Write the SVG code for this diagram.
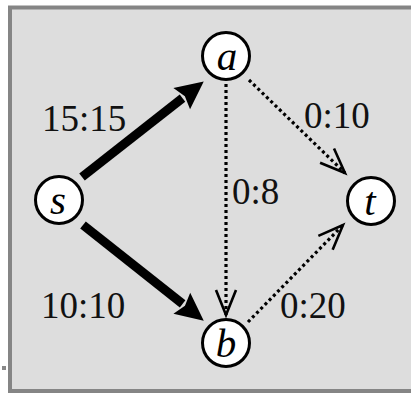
<svg xmlns="http://www.w3.org/2000/svg" width="411" height="393" viewBox="0 0 411 393">
<style>
.lbl{font-family:"Liberation Serif","Times New Roman",serif;font-size:37px;fill:#111}
.nlbl{font-family:"Liberation Serif","Times New Roman",serif;font-style:italic;font-size:41px;fill:#000;text-anchor:middle}
.node circle{fill:#fff;stroke:#000;stroke-width:3}
.thick{stroke:#000;stroke-width:9;fill:none}
.dot{stroke:#000;stroke-width:3.2;stroke-dasharray:3 3;fill:none}
</style>
<defs>
<marker id="solidHead" markerUnits="userSpaceOnUse" markerWidth="40" markerHeight="40" refX="0" refY="0" viewBox="-5 -20 40 40" orient="auto" overflow="visible">
<path d="M27,0 L-1,-13.5 L3,0 L-1,13.5 Z" fill="#000"/>
</marker>
<marker id="openHead" markerUnits="userSpaceOnUse" markerWidth="40" markerHeight="40" refX="0" refY="0" viewBox="-30 -20 40 40" orient="auto" overflow="visible">
<path d="M-25,-10 L0,0 L-25,10" fill="none" stroke="#000" stroke-width="2.6"/>
</marker>
</defs>
<rect x="0" y="0" width="411" height="393" fill="#fff"/>
<rect x="10" y="7.5" width="404" height="383.5" fill="#dddddd" stroke="#858585" stroke-width="4"/>
<rect x="2" y="366" width="4" height="4" fill="#888"/>
<g id="connectors">
<path class="thick" d="M82,177 L182.5,98.1" marker-end="url(#solidHead)"/>
<path class="thick" d="M83,225 L182.6,303.9" marker-end="url(#solidHead)"/>
<path class="dot" d="M226,84 L226,315" marker-end="url(#openHead)"/>
<path class="dot" d="M249,80 L345,173" marker-end="url(#openHead)"/>
<path class="dot" d="M248,322 L343,225" marker-end="url(#openHead)"/>
<text class="lbl" x="42" y="131">15:15</text>
<text class="lbl" x="304" y="128">0:10</text>
<text class="lbl" x="232" y="204">0:8</text>
<text class="lbl" x="41" y="318">10:10</text>
<text class="lbl" x="280" y="318">0:20</text>
</g>
<g id="node-a" class="node"><circle cx="226" cy="56" r="23.5"/><text class="nlbl" x="227" y="70">a</text></g>
<g id="node-s" class="node"><circle cx="59" cy="200" r="23.5"/><text class="nlbl" x="58" y="214">s</text></g>
<g id="node-t" class="node"><circle cx="371" cy="201" r="23.5"/><text class="nlbl" x="370" y="215">t</text></g>
<g id="node-b" class="node"><circle cx="226" cy="343" r="23.5"/><text class="nlbl" x="226" y="357">b</text></g>
</svg>
